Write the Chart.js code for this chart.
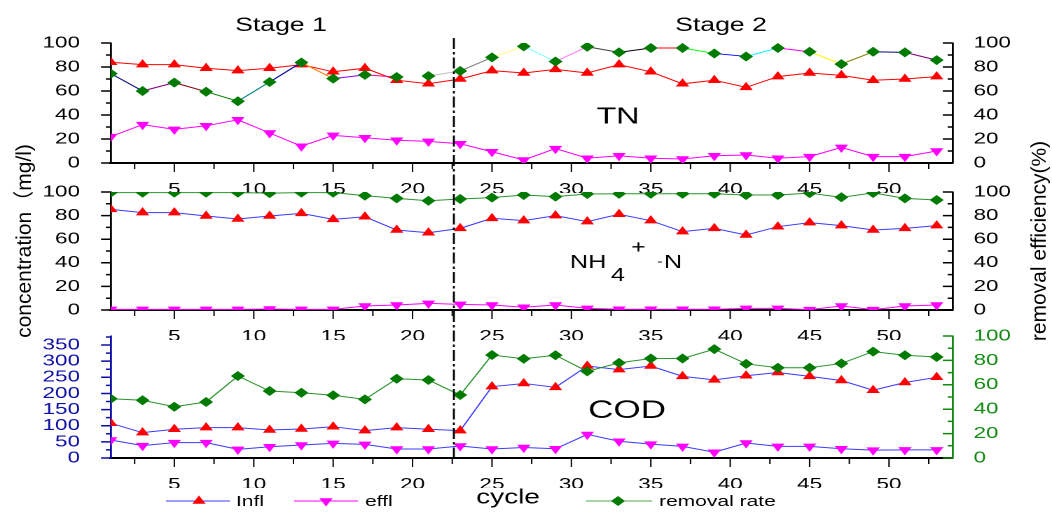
<!DOCTYPE html>
<html>
<head>
<meta charset="utf-8">
<script src="https://cdn.jsdelivr.net/npm/chart.js@4.4.1/dist/chart.umd.min.js"></script>
<style>
  html, body { margin: 0; padding: 0; background: #fff; overflow: hidden; }
  #wrap { position: relative; width: 1052px; height: 513px; }
  #wrap canvas { position: absolute; left: 0; top: 0; transform-origin: 0 0; transform: scaleX(1.4008); }
</style>
</head>
<body>
<div id="wrap">
  <canvas id="tnChart" width="751" height="513"></canvas>
  <canvas id="nhChart" width="751" height="513"></canvas>
  <canvas id="codChart" width="751" height="513"></canvas>
</div>
<script>
// the original picture is stretched sideways, so every canvas is drawn narrow and scaled in x
const STRETCH = 1052 / 751;
const FONT = '"Liberation Sans", Arial, "Noto Sans CJK SC", sans-serif';

const cycles = [1, 3, 5, 7, 9, 11, 13, 15, 17, 19, 21, 23, 25, 27, 29, 31, 33, 35, 37, 39, 41, 43, 45, 47, 49, 51, 53];

const tnInfl = [84, 82, 82, 79, 77, 79, 82, 76, 79, 69, 66, 70, 77, 75, 78, 75, 82, 76, 66, 69, 63, 72, 75, 73, 69, 70, 72];
const tnEffl = [22, 32, 28, 31, 36, 25, 14, 23, 21, 19, 18, 16, 9.4, 2.5, 12, 4, 6, 4, 3.3, 6, 6.7, 4, 5.3, 13, 5.3, 5.3, 10];
const tnRate = [74.5, 60, 67, 59.4, 51.5, 67.5, 83.8, 70.3, 73.4, 71.7, 72.5, 76.7, 88, 97.2, 84.6, 96.9, 92.2, 95.8, 95.8, 91.3, 88.8, 95.8, 92.7, 82.4, 92.7, 92.2, 85.7];

const nhInfl = [85.3, 82.5, 82.5, 79.7, 77.1, 79.7, 81.9, 76.8, 79, 67.8, 65.5, 69.2, 77.7, 75.7, 80, 74.9, 81.1, 75.7, 66.4, 69.2, 63.6, 70.6, 74, 71.5, 67.8, 69.2, 71.5];
const nhEffl = [0.5, 0.5, 0.5, 0.5, 0.5, 0.8, 0.5, 0.5, 3.4, 4.2, 5.6, 4.8, 4.2, 2.3, 4.2, 1.4, 0.6, 0.6, 0.6, 0.6, 1.4, 1.4, 0.3, 3.4, 0.3, 3.4, 4.2];
const nhRate = [99.5, 99.5, 99.5, 99.5, 99.5, 99, 99.5, 99.5, 96.9, 94.6, 92.6, 94.1, 95.2, 97.5, 96.1, 98.3, 98.5, 98.5, 98.5, 98.5, 97.5, 97.5, 99, 95.5, 99.2, 94.6, 93.2];

const codInfl = [107.5, 78.5, 89, 94, 94, 86.8, 90, 97, 84.7, 94, 89, 84.7, 221, 231, 219, 285, 274, 285, 253, 242, 255, 265, 253, 240, 210, 234, 250];
const codEffl = [55.8, 38.2, 47.5, 47.5, 26.9, 35, 40.3, 45.4, 42.2, 27.9, 27.9, 37.2, 28, 32.5, 28.5, 73, 52, 43, 36, 18, 46.5, 36, 36, 28.5, 24.5, 25, 25];
const codRate = [48.6, 47.3, 42, 45.9, 67.2, 54.9, 53.5, 51.4, 48.1, 65, 63.9, 51.6, 84.4, 81.4, 84.2, 71, 78, 81.6, 81.6, 89.2, 77.2, 74, 74, 77.5, 87.2, 84.2, 82.8];

const stageBreak = 22.6;
const stageLabels = ["Stage 1", "Stage 2"];
const seriesLabels = ["Infl", "effl", "removal rate"];
const xTitle = "cycle";
const leftTitle = "concentration（mg/l)";
const rightTitle = "removal efficiency(%)";

// Origin's "increment" colours, one per segment of the TN removal line
const tnRateSegColours = [
  "#000080", "#800080", "#800000", "#008000", "#008080", "#0000a0", "#ff8000", "#8000ff", "#ff0080",
  "#ffffff", "#c0c0c0", "#808080", "#ffff80", "#80ffff", "#ff80ff", "#404040", "#000000", "#ff0000",
  "#00ff00", "#0000ff", "#00ffff", "#ff00ff", "#ffff00", "#808000", "#000080", "#800080",
];

const RED = "#ff0000";
const MAGENTA = "#ff00ff";
const BLUE = "#3a3aff";
const GREEN_LINE = "#2a922a";
const GREEN_MARK = "#007a00";

Chart.defaults.font.family = FONT;

function points(values) {
  return values.map((v, i) => ({ x: cycles[i], y: v }));
}

function series(values, axis, lineColour, markColour, style, rotation, order) {
  return {
    data: points(values),
    yAxisID: axis,
    borderColor: lineColour,
    borderWidth: 1,
    pointStyle: style,
    pointRotation: rotation,
    pointRadius: style === "rectRot" ? 5 : 5.5,
    pointBackgroundColor: markColour,
    pointBorderWidth: 0,
    order: order,
  };
}

function drawMarker(ctx, style, x, y, r) {
  ctx.beginPath();
  if (style === "up") {
    ctx.moveTo(x, y - r);
    ctx.lineTo(x + 0.866 * r, y + 0.5 * r);
    ctx.lineTo(x - 0.866 * r, y + 0.5 * r);
  } else if (style === "down") {
    ctx.moveTo(x, y + r);
    ctx.lineTo(x + 0.866 * r, y - 0.5 * r);
    ctx.lineTo(x - 0.866 * r, y - 0.5 * r);
  } else {
    ctx.moveTo(x, y - r);
    ctx.lineTo(x + r, y);
    ctx.lineTo(x, y + r);
    ctx.lineTo(x - r, y);
  }
  ctx.closePath();
  ctx.fill();
}

const tickMarks = {
  id: "tickMarks",
  afterDraw(chart, args, opts) {
    const ctx = chart.ctx;
    const { x, yL, yR } = chart.scales;
    ctx.save();
    ctx.lineWidth = 1;
    ctx.strokeStyle = "#000";
    ctx.beginPath();
    x.ticks.forEach((t) => {
      const px = x.getPixelForValue(t.value);
      ctx.moveTo(px, x.top);
      ctx.lineTo(px, x.top + (t.value % 5 === 0 ? 9 : 6));
    });
    ctx.stroke();

    ctx.lineWidth = 1.5;
    ctx.strokeStyle = opts.leftColour;
    ctx.beginPath();
    yL.ticks.forEach((t) => {
      const py = yL.getPixelForValue(t.value);
      ctx.moveTo(yL.right, py);
      ctx.lineTo(yL.right - (t.value % opts.leftMajor === 0 ? 7 : 3.5), py);
    });
    ctx.stroke();

    ctx.strokeStyle = opts.rightColour;
    ctx.beginPath();
    yR.ticks.forEach((t) => {
      const py = yR.getPixelForValue(t.value);
      ctx.moveTo(yR.left, py);
      ctx.lineTo(yR.left - (t.value % 20 === 0 ? 7 : 3.5), py);
    });
    ctx.stroke();
    ctx.restore();
  },
};

const annotations = {
  id: "annotations",
  afterDraw(chart) {
    const ctx = chart.ctx;
    const cx = (v) => v / STRETCH;
    ctx.save();

    // stage divider
    const xd = chart.scales.x.getPixelForValue(stageBreak);
    ctx.strokeStyle = "#000";
    ctx.lineWidth = 1.4;
    ctx.setLineDash([11, 3, 2.5, 3]);
    ctx.beginPath();
    ctx.moveTo(xd, 38);
    ctx.lineTo(xd, 459);
    ctx.stroke();
    ctx.setLineDash([]);

    ctx.fillStyle = "#000";
    ctx.textBaseline = "middle";
    ctx.textAlign = "center";
    ctx.font = "19px " + FONT;
    ctx.fillText(stageLabels[0], cx(281), 26);
    ctx.fillText(stageLabels[1], cx(721), 26);

    ctx.font = "23px " + FONT;
    ctx.fillText("TN", cx(618), 117);
    ctx.font = "25px " + FONT;
    ctx.fillText("COD", cx(627), 411);

    // NH4+ -N
    ctx.textAlign = "left";
    ctx.textBaseline = "alphabetic";
    ctx.font = "18px " + FONT;
    ctx.fillText("NH", cx(570), 268);
    ctx.fillText("4", cx(611), 281);
    ctx.fillText("+", cx(631), 253);
    ctx.fillText("N", cx(664), 268);
    ctx.font = "12px " + FONT;
    ctx.fillText("-", cx(657), 265);

    // legend
    const ly = 501;
    const items = [
      { x0: 166, x1: 230, mx: 199, tx: 236, line: BLUE, mark: RED, style: "up", r: 5.5 },
      { x0: 294, x1: 358, mx: 326, tx: 365, line: MAGENTA, mark: MAGENTA, style: "down", r: 5.5 },
      { x0: 586, x1: 652, mx: 618, tx: 659, line: "#4aa84a", mark: GREEN_MARK, style: "diamond", r: 5 },
    ];
    ctx.font = "15px " + FONT;
    ctx.textBaseline = "middle";
    items.forEach((it, i) => {
      ctx.strokeStyle = it.line;
      ctx.lineWidth = 1;
      ctx.beginPath();
      ctx.moveTo(cx(it.x0), ly);
      ctx.lineTo(cx(it.x1), ly);
      ctx.stroke();
      ctx.fillStyle = it.mark;
      drawMarker(ctx, it.style, cx(it.mx), ly, it.r);
      ctx.fillStyle = "#000";
      ctx.fillText(seriesLabels[i], cx(it.tx), ly + 1);
    });
    ctx.textAlign = "center";
    ctx.font = "20px " + FONT;
    ctx.fillText(xTitle, cx(508), 498);

    // rotated axis titles, drawn without the sideways stretch
    ctx.font = "21px " + FONT;
    [[leftTitle, 25], [rightTitle, 1040]].forEach(([text, x]) => {
      ctx.save();
      ctx.translate(cx(x), 241);
      ctx.scale(1 / STRETCH, 1);
      ctx.rotate(-Math.PI / 2);
      ctx.fillText(text, 0, 0);
      ctx.restore();
    });
    ctx.restore();
  },
};

function makeChart(id, panel) {
  const tickFont = { family: FONT, size: 16 };
  return new Chart(document.getElementById(id), {
    type: "line",
    data: { datasets: panel.datasets },
    options: {
      responsive: false,
      devicePixelRatio: 2,
      animation: false,
      events: [],
      layout: {
        padding: { left: 9.1, right: 11, top: panel.top, bottom: 513 - panel.bottom - 30 },
      },
      elements: { line: { tension: 0 } },
      plugins: {
        legend: { display: false },
        tooltip: { enabled: false },
        tickMarks: {
          leftMajor: panel.leftMajor,
          leftColour: panel.leftColour,
          rightColour: panel.rightColour,
        },
      },
      scales: {
        x: {
          type: "linear",
          min: 1,
          max: 54,
          grid: { display: false },
          border: { color: "#000", width: 2 },
          ticks: {
            stepSize: 2.5,
            includeBounds: false,
            autoSkip: false,
            maxRotation: 0,
            padding: 9,
            color: "#000",
            font: tickFont,
            callback: (v) => (v % 5 === 0 ? v : ""),
          },
          afterFit: (s) => { s.height = 30; },
        },
        yL: {
          position: "left",
          min: 0,
          max: panel.leftMax,
          grid: { display: false },
          border: { color: panel.leftColour, width: 1.4 },
          ticks: {
            stepSize: panel.leftStep,
            includeBounds: false,
            autoSkip: false,
            padding: 14,
            color: panel.leftColour,
            font: tickFont,
            callback: (v) => (v % panel.leftMajor === 0 ? v : ""),
          },
          afterFit: (s) => { s.width = 70; },
        },
        yR: {
          position: "right",
          min: 0,
          max: 100,
          grid: { display: false },
          border: { color: panel.rightColour, width: 1.4 },
          ticks: {
            stepSize: 10,
            autoSkip: false,
            padding: 7,
            color: panel.rightColour,
            font: tickFont,
            callback: (v) => (v % 20 === 0 ? v : ""),
          },
          afterFit: (s) => { s.width = 60; },
        },
      },
    },
    plugins: panel.annotate ? [tickMarks, annotations] : [tickMarks],
  });
}

const tnRateSet = series(tnRate, "yR", GREEN_LINE, GREEN_MARK, "rectRot", 0, 0);
tnRateSet.segment = { borderColor: (c) => tnRateSegColours[c.p0DataIndex] };

makeChart("tnChart", {
  top: 43,
  bottom: 163,
  leftMax: 100,
  leftStep: 10,
  leftMajor: 20,
  leftColour: "#000",
  rightColour: "#000",
  datasets: [
    tnRateSet,
    series(tnInfl, "yL", RED, RED, "triangle", 0, 1),
    series(tnEffl, "yL", MAGENTA, MAGENTA, "triangle", 180, 2),
  ],
});

makeChart("nhChart", {
  top: 192,
  bottom: 310,
  leftMax: 100,
  leftStep: 10,
  leftMajor: 20,
  leftColour: "#000",
  rightColour: "#000",
  datasets: [
    series(nhRate, "yR", GREEN_LINE, GREEN_MARK, "rectRot", 0, 0),
    series(nhInfl, "yL", BLUE, RED, "triangle", 0, 1),
    series(nhEffl, "yL", MAGENTA, MAGENTA, "triangle", 180, 2),
  ],
});

makeChart("codChart", {
  top: 336,
  bottom: 458,
  leftMax: 378,
  leftStep: 25,
  leftMajor: 50,
  leftColour: "#0c0ca6",
  rightColour: "#128a12",
  annotate: true,
  datasets: [
    series(codRate, "yR", GREEN_LINE, GREEN_MARK, "rectRot", 0, 0),
    series(codInfl, "yL", BLUE, RED, "triangle", 0, 1),
    series(codEffl, "yL", BLUE, MAGENTA, "triangle", 180, 2),
  ],
});
</script>
</body>
</html>
